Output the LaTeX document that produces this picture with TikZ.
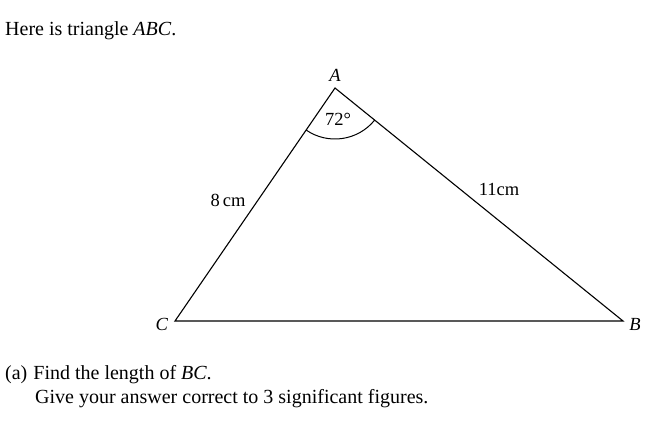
\documentclass[tikz,border=0pt]{standalone}
\usepackage{fontspec}
\setmainfont{Liberation Serif}
\usetikzlibrary{calc}
\begin{document}
\begin{tikzpicture}[x=1pt,y=-1pt,
  txt/.style={font=\fontsize{18.5}{22}\selectfont, inner sep=0pt},
  body/.style={font=\fontsize{20}{24}\selectfont, inner sep=0pt, anchor=base west},
  edge/.style={line width=1.1pt, line join=miter}]
\useasboundingbox (0,0) rectangle (671,433);
\coordinate (A) at (335,88);
\coordinate (B) at (623,321);
\coordinate (C) at (175,321);
\draw[edge] (A) -- (B) -- (C) -- cycle;
\draw[line width=1pt] ($(A)!51pt!(C)$) coordinate (p) arc[start angle=124.5, end angle=39, radius=51];
\node[body] (t1) at (5,36) {Here is triangle \textit{ABC}.};
\node[txt] (la) at (335,75) {\textit{A}};
\node[txt] (lb) at (635,324) {\textit{B}};
\node[txt] (lc) at (162,324) {\textit{C}};
\node[txt] (ang) at (338,119) {72°};
\node[txt] (s1) at (228,200) {8\,cm};
\node[txt] (s2) at (499,189) {11cm};
\node[body] (q1) at (5,379) {(a)\hspace{6pt}Find the length of \textit{BC}.};
\node[body] (q2) at (35,403) {Give your answer correct to 3 significant figures.};
\end{tikzpicture}
\end{document}
